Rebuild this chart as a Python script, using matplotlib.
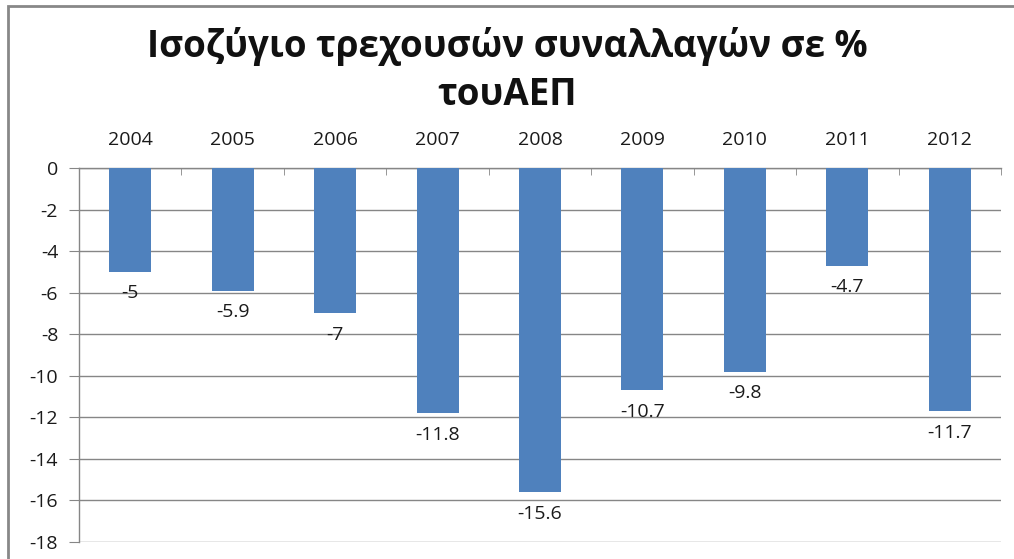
import numpy as np
import matplotlib.pyplot as plt
from matplotlib.patches import Rectangle

plt.rcParams['font.family'] = ['Open Sans', 'DejaVu Sans']

years = ['2004', '2005', '2006', '2007', '2008', '2009', '2010', '2011', '2012']
balance = [-5, -5.9, -7, -11.8, -15.6, -10.7, -9.8, -4.7, -11.7]
value_labels = ['-5', '-5.9', '-7', '-11.8', '-15.6', '-10.7', '-9.8', '-4.7', '-11.7']
y_ticks = list(range(0, -19, -2))

bar_color = '#4F81BD'
line_color = '#868686'
text_color = '#1a1a1a'
fs = 14

fig = plt.figure(figsize=(10.14, 5.59), dpi=100)
ax = fig.add_axes([79 / 1014, 1 - 542 / 559, (1001 - 79) / 1014, (542 - 168) / 559])

x = np.arange(len(years))
bars = ax.bar(x, balance, width=0.41, color=bar_color, zorder=3)

for b, lab in zip(bars, value_labels):
    ax.annotate(lab, (b.get_x() + b.get_width() / 2, b.get_height()),
                xytext=(0, -9), textcoords='offset points',
                ha='center', va='top', fontsize=fs, color=text_color)

ax.set_xlim(-0.5, len(years) - 0.5)
ax.set_ylim(-18, 0)
ax.set_yticks(y_ticks)
ax.set_yticklabels([str(v) for v in y_ticks])
ax.yaxis.grid(True, color=line_color, linewidth=1, zorder=0)

# category labels on top, boundary ticks pointing into the plot
ax.xaxis.tick_top()
ax.set_xticks(x)
ax.set_xticklabels(years)
ax.set_xticks(np.arange(-0.5, len(years)), minor=True)
ax.tick_params(axis='x', which='major', length=0, pad=14, labelsize=fs, colors=text_color)
ax.tick_params(axis='x', which='minor', direction='in', length=5, color=line_color)
ax.tick_params(axis='y', length=7, color=line_color, labelsize=fs, labelcolor=text_color, pad=8)

for side in ['right', 'bottom']:
    ax.spines[side].set_visible(False)
for side in ['left', 'top']:
    ax.spines[side].set_color(line_color)
    ax.spines[side].set_linewidth(1)

fig.text(0.5, 1 - 47 / 559, 'Ισοζύγιο τρεχουσών συναλλαγών σε %', ha='center', va='center',
         fontsize=26.5, fontweight='bold', color='#111111')
fig.text(0.5, 1 - 95 / 559, 'τουΑΕΠ', ha='center', va='center',
         fontsize=26.5, fontweight='bold', color='#111111')

# outer chart border (cropped at right and bottom)
fig.patches.append(Rectangle((8 / 1014, -0.1), 1.2, 1.1 - 6 / 559,
                             transform=fig.transFigure, fill=False,
                             edgecolor='#888888', linewidth=2))

fig.savefig('out.png', dpi=100)
